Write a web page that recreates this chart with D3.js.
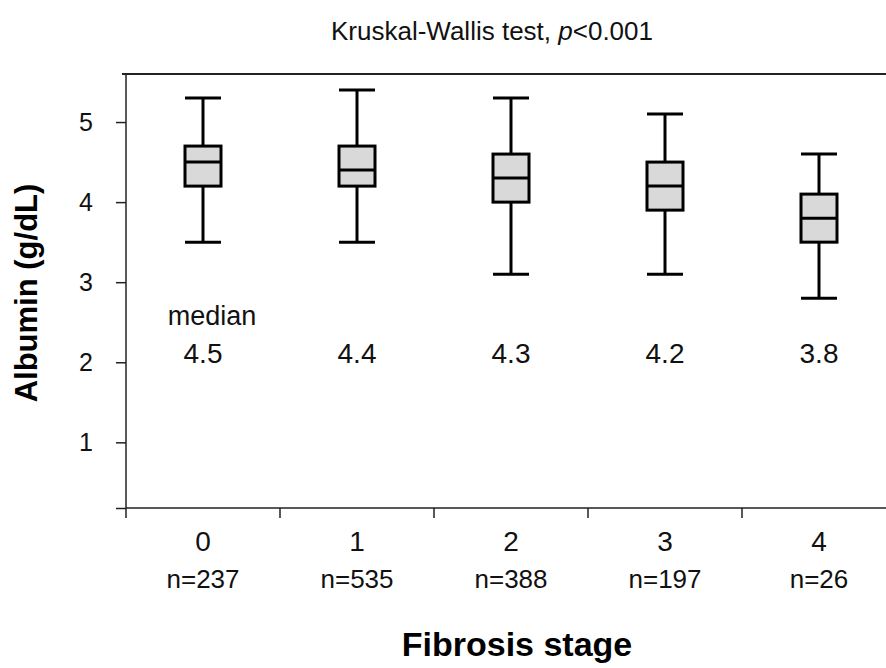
<!DOCTYPE html>
<html>
<head>
<meta charset="utf-8">
<script src="https://cdn.jsdelivr.net/npm/d3@7"></script>
<style>
  body { margin: 0; background: #fff; }
  svg { display: block; font-family: "Liberation Sans", Arial, sans-serif; }
</style>
</head>
<body>
<div id="chart"></div>
<script>
// Data
const stages = ["0", "1", "2", "3", "4"];
const counts = [237, 535, 388, 197, 26];
const whiskerLow = [3.5, 3.5, 3.1, 3.1, 2.8];
const q1 = [4.2, 4.2, 4.0, 3.9, 3.5];
const medians = [4.5, 4.4, 4.3, 4.2, 3.8];
const q3 = [4.7, 4.7, 4.6, 4.5, 4.1];
const whiskerHigh = [5.3, 5.4, 5.3, 5.1, 4.6];
const yTicks = [1, 2, 3, 4, 5];

const width = 886;
const height = 668;

const svg = d3.select("#chart")
  .append("svg")
  .attr("width", width)
  .attr("height", height);

// plot runs a bit past the right edge of the picture
const x = d3.scaleBand().domain(stages).range([126, 896]).padding(0);
const y = d3.scaleLinear().domain([0.18, 5.6]).range([508, 74]);

const boxes = stages.map((s, i) => ({
  stage: s, n: counts[i], lo: whiskerLow[i], q1: q1[i],
  med: medians[i], q3: q3[i], hi: whiskerHigh[i]
}));

// top frame line
svg.append("line")
  .attr("x1", 122).attr("x2", 896)
  .attr("y1", y(5.6)).attr("y2", y(5.6))
  .attr("stroke", "#222").attr("stroke-width", 2);

// y axis
const yAxis = svg.append("g")
  .attr("transform", `translate(${x.range()[0]},0)`)
  .call(d3.axisLeft(y).tickValues([0.18, ...yTicks]).tickSize(10).tickSizeOuter(0)
    .tickFormat(d => yTicks.includes(d) ? d : ""));
yAxis.select(".domain").remove();
yAxis.selectAll(".tick line").attr("stroke", "#222").attr("stroke-width", 1.5);
yAxis.selectAll(".tick text")
  .attr("x", -33)
  .style("font-size", "25px")
  .attr("fill", "#111");
yAxis.append("line")
  .attr("x1", 0).attr("x2", 0)
  .attr("y1", y(5.6)).attr("y2", y(0.18) + 10)
  .attr("stroke", "#222").attr("stroke-width", 1.5);

// x axis: ticks at the category boundaries
const xAxis = svg.append("g").attr("transform", `translate(0,${y(0.18)})`);
xAxis.append("line")
  .attr("x1", x.range()[0]).attr("x2", x.range()[1])
  .attr("stroke", "#222").attr("stroke-width", 1.5);
xAxis.selectAll(".bound")
  .data(stages.slice(1))
  .join("line")
  .attr("class", "bound")
  .attr("x1", d => x(d)).attr("x2", d => x(d))
  .attr("y1", 0).attr("y2", 10)
  .attr("stroke", "#222").attr("stroke-width", 1.5);
xAxis.selectAll(".lab")
  .data(stages)
  .join("text")
  .attr("class", "lab")
  .attr("x", d => x(d) + x.bandwidth() / 2)
  .attr("y", 43)
  .attr("text-anchor", "middle")
  .style("font-size", "28px")
  .attr("fill", "#111")
  .text(d => d);
xAxis.selectAll(".cnt")
  .data(boxes)
  .join("text")
  .attr("class", "cnt")
  .attr("x", d => x(d.stage) + x.bandwidth() / 2)
  .attr("y", 80)
  .attr("text-anchor", "middle")
  .style("font-size", "26px")
  .attr("fill", "#111")
  .text(d => "n=" + d.n);

// box plots
const boxW = 36;
const g = svg.append("g")
  .selectAll("g")
  .data(boxes)
  .join("g")
  .attr("transform", d => `translate(${x(d.stage) + x.bandwidth() / 2},0)`);

g.append("line")
  .attr("x1", 0).attr("x2", 0)
  .attr("y1", d => y(d.hi)).attr("y2", d => y(d.lo))
  .attr("stroke", "#000").attr("stroke-width", 3);
g.selectAll(".cap")
  .data(d => [d.lo, d.hi])
  .join("line")
  .attr("class", "cap")
  .attr("x1", -boxW / 2).attr("x2", boxW / 2)
  .attr("y1", v => y(v)).attr("y2", v => y(v))
  .attr("stroke", "#000").attr("stroke-width", 3);
g.append("rect")
  .attr("x", -boxW / 2)
  .attr("y", d => y(d.q3))
  .attr("width", boxW)
  .attr("height", d => y(d.q1) - y(d.q3))
  .attr("fill", "#d9d9d9")
  .attr("stroke", "#000").attr("stroke-width", 3);
g.append("line")
  .attr("x1", -boxW / 2).attr("x2", boxW / 2)
  .attr("y1", d => y(d.med)).attr("y2", d => y(d.med))
  .attr("stroke", "#000").attr("stroke-width", 3);

// median values
g.append("text")
  .attr("y", 363)
  .attr("text-anchor", "middle")
  .style("font-size", "28px")
  .attr("fill", "#111")
  .text(d => d3.format(".1f")(d.med));
svg.append("text")
  .attr("x", x(stages[0]) + x.bandwidth() / 2 + 9)
  .attr("y", 325)
  .attr("text-anchor", "middle")
  .style("font-size", "27px")
  .attr("fill", "#111")
  .text("median");

// title
const title = svg.append("text")
  .attr("x", 492).attr("y", 40)
  .attr("text-anchor", "middle")
  .style("font-size", "26px")
  .attr("fill", "#111");
title.append("tspan").text("Kruskal-Wallis test, ");
title.append("tspan").style("font-style", "italic").text("p");
title.append("tspan").text("<0.001");

// axis titles
svg.append("text")
  .attr("transform", "translate(37,293) rotate(-90)")
  .attr("text-anchor", "middle")
  .style("font-size", "31px")
  .style("font-weight", "bold")
  .attr("fill", "#000")
  .text("Albumin (g/dL)");
svg.append("text")
  .attr("x", 517).attr("y", 656)
  .attr("text-anchor", "middle")
  .style("font-size", "34px")
  .style("font-weight", "bold")
  .attr("fill", "#000")
  .text("Fibrosis stage");
</script>
</body>
</html>
